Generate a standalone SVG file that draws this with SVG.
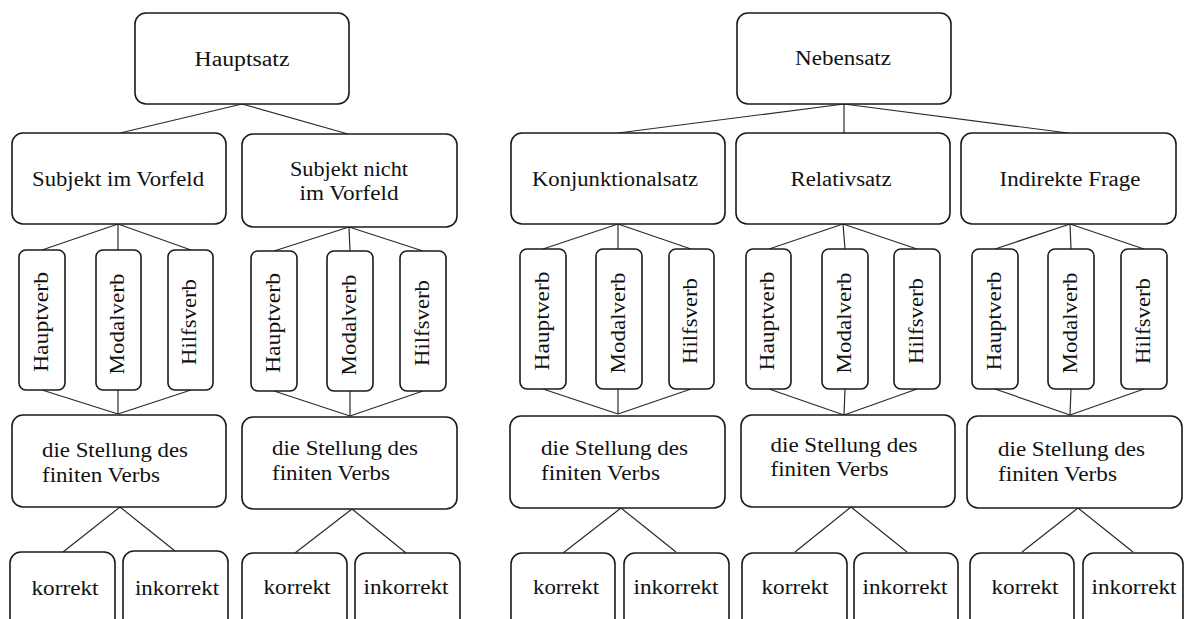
<svg xmlns="http://www.w3.org/2000/svg" width="1184" height="619" viewBox="0 0 1184 619">
<style>
.box{fill:#fff;stroke:#1a1a1a;stroke-width:1.6}
.t{font-family:'Liberation Serif','DejaVu Serif',serif;font-size:20px;fill:#111}
.c{text-anchor:middle}
.v{text-anchor:middle}
#connectors line{stroke:#2a2a2a;stroke-width:1.2}
</style>
<rect width="1184" height="619" fill="#fff"/>
<g id="connectors">
<line x1="242" y1="104" x2="120" y2="133"/>
<line x1="242" y1="104" x2="348" y2="134"/>
<line x1="118" y1="224" x2="42" y2="250"/>
<line x1="118" y1="224" x2="118" y2="250"/>
<line x1="118" y1="224" x2="191" y2="250"/>
<line x1="42" y1="390" x2="118" y2="414"/>
<line x1="118" y1="390" x2="118" y2="414"/>
<line x1="191" y1="390" x2="118" y2="414"/>
<line x1="120" y1="507" x2="63" y2="552"/>
<line x1="120" y1="507" x2="175" y2="551"/>
<line x1="349" y1="227" x2="274" y2="251"/>
<line x1="349" y1="227" x2="350" y2="251"/>
<line x1="349" y1="227" x2="423" y2="251"/>
<line x1="274" y1="391" x2="350" y2="416"/>
<line x1="350" y1="391" x2="350" y2="416"/>
<line x1="423" y1="391" x2="350" y2="416"/>
<line x1="352" y1="509" x2="295" y2="553"/>
<line x1="352" y1="509" x2="406" y2="553"/>
<line x1="844" y1="104" x2="618" y2="133"/>
<line x1="844" y1="104" x2="844" y2="133"/>
<line x1="844" y1="104" x2="1068" y2="133"/>
<line x1="618" y1="224" x2="543" y2="249"/>
<line x1="618" y1="224" x2="618" y2="249"/>
<line x1="618" y1="224" x2="691" y2="249"/>
<line x1="543" y1="389" x2="618" y2="414"/>
<line x1="618" y1="389" x2="618" y2="414"/>
<line x1="691" y1="389" x2="618" y2="414"/>
<line x1="843" y1="224" x2="769" y2="249"/>
<line x1="843" y1="224" x2="845" y2="249"/>
<line x1="843" y1="224" x2="917" y2="249"/>
<line x1="769" y1="389" x2="844" y2="415"/>
<line x1="845" y1="389" x2="844" y2="415"/>
<line x1="917" y1="389" x2="844" y2="415"/>
<line x1="1070" y1="224" x2="995" y2="249"/>
<line x1="1070" y1="224" x2="1071" y2="249"/>
<line x1="1070" y1="224" x2="1144" y2="249"/>
<line x1="995" y1="389" x2="1070" y2="415"/>
<line x1="1071" y1="389" x2="1070" y2="415"/>
<line x1="1144" y1="389" x2="1070" y2="415"/>
<line x1="621" y1="508" x2="563" y2="553"/>
<line x1="621" y1="508" x2="676" y2="552"/>
<line x1="851" y1="507" x2="795" y2="552"/>
<line x1="851" y1="507" x2="907" y2="552"/>
<line x1="1078" y1="508" x2="1022" y2="552"/>
<line x1="1078" y1="508" x2="1133" y2="552"/>
</g>
<g id="hauptsatz"><rect class="box" x="135" y="13" width="214" height="91" rx="11"/><text class="t c" x="242" y="66" textLength="95" lengthAdjust="spacingAndGlyphs">Hauptsatz</text></g>
<g id="subjekt-im-vorfeld"><rect class="box" x="12" y="133" width="214" height="91" rx="11"/><text class="t c" x="118" y="186" textLength="172" lengthAdjust="spacingAndGlyphs">Subjekt im Vorfeld</text></g>
<g id="subjekt-nicht"><rect class="box" x="242" y="134" width="215" height="93" rx="11"/><text class="t c" x="349" y="176" textLength="118" lengthAdjust="spacingAndGlyphs">Subjekt nicht</text><text class="t c" x="349" y="200" textLength="99" lengthAdjust="spacingAndGlyphs">im Vorfeld</text></g>

<g id="a-hauptverb"><rect class="box" x="19" y="250" width="46" height="140" rx="7"/><text class="t v" transform="translate(47.5,322) rotate(-90)" textLength="100" lengthAdjust="spacingAndGlyphs">Hauptverb</text></g>
<g id="a-modalverb"><rect class="box" x="96" y="250" width="45" height="140" rx="7"/><text class="t v" transform="translate(124,324) rotate(-90)" textLength="101" lengthAdjust="spacingAndGlyphs">Modalverb</text></g>
<g id="a-hilfsverb"><rect class="box" x="168" y="250" width="45" height="140" rx="7"/><text class="t v" transform="translate(196,322) rotate(-90)" textLength="86" lengthAdjust="spacingAndGlyphs">Hilfsverb</text></g>
<g id="a-stellung"><rect class="box" x="12" y="415" width="214" height="92" rx="11"/><text class="t" x="42" y="457" textLength="146" lengthAdjust="spacingAndGlyphs">die Stellung des</text><text class="t" x="42" y="482" textLength="118" lengthAdjust="spacingAndGlyphs">finiten Verbs</text></g>
<g id="a-korrekt"><rect class="box" x="10" y="552" width="105" height="80" rx="11"/><text class="t c" x="65" y="595" textLength="67" lengthAdjust="spacingAndGlyphs">korrekt</text></g>
<g id="a-inkorrekt"><rect class="box" x="123" y="551" width="105" height="80" rx="11"/><text class="t c" x="177" y="595" textLength="84" lengthAdjust="spacingAndGlyphs">inkorrekt</text></g>

<g id="b-hauptverb"><rect class="box" x="251" y="251" width="46" height="140" rx="7"/><text class="t v" transform="translate(279.5,323) rotate(-90)" textLength="100" lengthAdjust="spacingAndGlyphs">Hauptverb</text></g>
<g id="b-modalverb"><rect class="box" x="327" y="251" width="46" height="140" rx="7"/><text class="t v" transform="translate(355.5,325) rotate(-90)" textLength="101" lengthAdjust="spacingAndGlyphs">Modalverb</text></g>
<g id="b-hilfsverb"><rect class="box" x="400" y="251" width="46" height="140" rx="7"/><text class="t v" transform="translate(428.5,323) rotate(-90)" textLength="86" lengthAdjust="spacingAndGlyphs">Hilfsverb</text></g>
<g id="b-stellung"><rect class="box" x="242" y="417" width="215" height="92" rx="11"/><text class="t" x="272" y="455" textLength="146" lengthAdjust="spacingAndGlyphs">die Stellung des</text><text class="t" x="272" y="480" textLength="118" lengthAdjust="spacingAndGlyphs">finiten Verbs</text></g>
<g id="b-korrekt"><rect class="box" x="242" y="553" width="105" height="80" rx="11"/><text class="t c" x="297" y="594" textLength="67" lengthAdjust="spacingAndGlyphs">korrekt</text></g>
<g id="b-inkorrekt"><rect class="box" x="355" y="553" width="105" height="80" rx="11"/><text class="t c" x="406" y="594" textLength="85" lengthAdjust="spacingAndGlyphs">inkorrekt</text></g>

<g id="nebensatz"><rect class="box" x="737" y="13" width="214" height="91" rx="11"/><text class="t c" x="843" y="65" textLength="96" lengthAdjust="spacingAndGlyphs">Nebensatz</text></g>
<g id="konjunktionalsatz"><rect class="box" x="511" y="133" width="214" height="91" rx="11"/><text class="t c" x="615" y="186" textLength="166" lengthAdjust="spacingAndGlyphs">Konjunktionalsatz</text></g>
<g id="relativsatz"><rect class="box" x="736" y="133" width="214" height="91" rx="11"/><text class="t c" x="841" y="186" textLength="101" lengthAdjust="spacingAndGlyphs">Relativsatz</text></g>
<g id="indirekte-frage"><rect class="box" x="961" y="133" width="215" height="91" rx="11"/><text class="t c" x="1070" y="186" textLength="141" lengthAdjust="spacingAndGlyphs">Indirekte Frage</text></g>

<g id="k-hauptverb"><rect class="box" x="520" y="249" width="46" height="140" rx="7"/><text class="t v" transform="translate(548.5,321) rotate(-90)" textLength="99" lengthAdjust="spacingAndGlyphs">Hauptverb</text></g>
<g id="k-modalverb"><rect class="box" x="596" y="249" width="46" height="140" rx="7"/><text class="t v" transform="translate(624.5,323) rotate(-90)" textLength="101" lengthAdjust="spacingAndGlyphs">Modalverb</text></g>
<g id="k-hilfsverb"><rect class="box" x="669" y="249" width="45" height="140" rx="7"/><text class="t v" transform="translate(697,321) rotate(-90)" textLength="86" lengthAdjust="spacingAndGlyphs">Hilfsverb</text></g>
<g id="k-stellung"><rect class="box" x="510" y="416" width="215" height="92" rx="11"/><text class="t" x="541" y="455" textLength="147" lengthAdjust="spacingAndGlyphs">die Stellung des</text><text class="t" x="541" y="480" textLength="119" lengthAdjust="spacingAndGlyphs">finiten Verbs</text></g>
<g id="k-korrekt"><rect class="box" x="511" y="553" width="104" height="80" rx="11"/><text class="t c" x="566" y="594" textLength="66" lengthAdjust="spacingAndGlyphs">korrekt</text></g>
<g id="k-inkorrekt"><rect class="box" x="624" y="553" width="105" height="80" rx="11"/><text class="t c" x="676" y="594" textLength="85" lengthAdjust="spacingAndGlyphs">inkorrekt</text></g>

<g id="r-hauptverb"><rect class="box" x="746" y="249" width="45" height="140" rx="7"/><text class="t v" transform="translate(774,321) rotate(-90)" textLength="99" lengthAdjust="spacingAndGlyphs">Hauptverb</text></g>
<g id="r-modalverb"><rect class="box" x="822" y="249" width="46" height="140" rx="7"/><text class="t v" transform="translate(850.5,323) rotate(-90)" textLength="101" lengthAdjust="spacingAndGlyphs">Modalverb</text></g>
<g id="r-hilfsverb"><rect class="box" x="894" y="249" width="46" height="140" rx="7"/><text class="t v" transform="translate(922.5,321) rotate(-90)" textLength="86" lengthAdjust="spacingAndGlyphs">Hilfsverb</text></g>
<g id="r-stellung"><rect class="box" x="741" y="415" width="214" height="92" rx="11"/><text class="t" x="770.5" y="452" textLength="147" lengthAdjust="spacingAndGlyphs">die Stellung des</text><text class="t" x="770.5" y="476" textLength="118" lengthAdjust="spacingAndGlyphs">finiten Verbs</text></g>
<g id="r-korrekt"><rect class="box" x="742" y="553" width="105" height="80" rx="11"/><text class="t c" x="795" y="594" textLength="67" lengthAdjust="spacingAndGlyphs">korrekt</text></g>
<g id="r-inkorrekt"><rect class="box" x="854" y="553" width="104" height="80" rx="11"/><text class="t c" x="905" y="594" textLength="85" lengthAdjust="spacingAndGlyphs">inkorrekt</text></g>

<g id="i-hauptverb"><rect class="box" x="972" y="249" width="46" height="140" rx="7"/><text class="t v" transform="translate(1000.5,321) rotate(-90)" textLength="99" lengthAdjust="spacingAndGlyphs">Hauptverb</text></g>
<g id="i-modalverb"><rect class="box" x="1048" y="249" width="46" height="140" rx="7"/><text class="t v" transform="translate(1076.5,323) rotate(-90)" textLength="101" lengthAdjust="spacingAndGlyphs">Modalverb</text></g>
<g id="i-hilfsverb"><rect class="box" x="1121" y="249" width="46" height="140" rx="7"/><text class="t v" transform="translate(1149.5,321) rotate(-90)" textLength="86" lengthAdjust="spacingAndGlyphs">Hilfsverb</text></g>
<g id="i-stellung"><rect class="box" x="967" y="416" width="215" height="92" rx="11"/><text class="t" x="998" y="456" textLength="147" lengthAdjust="spacingAndGlyphs">die Stellung des</text><text class="t" x="998" y="481" textLength="119" lengthAdjust="spacingAndGlyphs">finiten Verbs</text></g>
<g id="i-korrekt"><rect class="box" x="970" y="553" width="104" height="80" rx="11"/><text class="t c" x="1025" y="594" textLength="67" lengthAdjust="spacingAndGlyphs">korrekt</text></g>
<g id="i-inkorrekt"><rect class="box" x="1083" y="553" width="100" height="80" rx="11"/><text class="t c" x="1134" y="594" textLength="85" lengthAdjust="spacingAndGlyphs">inkorrekt</text></g>
</svg>
